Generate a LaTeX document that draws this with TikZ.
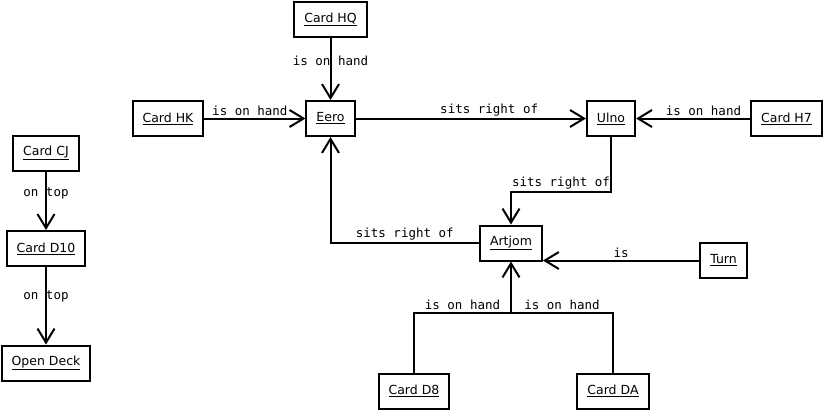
\documentclass[tikz,border=0pt]{standalone}
\usepackage{fontspec}
\setmainfont{DejaVu Sans}
\setmonofont{DejaVu Sans Mono}
\usetikzlibrary{positioning, arrows.meta, calc}

\begin{document}
\begin{tikzpicture}[
  x=1pt, y=-1pt,
  font=\fontsize{12.5}{14}\selectfont,
  >={Straight Barb[length=14pt, width=17pt]},
  obj/.style={draw, line width=2pt, minimum height=35pt, inner xsep=10pt,
              inner ysep=4pt, fill=white},
  rel/.style={->, line width=2pt},
  link/.style={line width=2pt},
  tag/.style={font=\ttfamily\fontsize{12.5}{14}\selectfont, inner sep=1.5pt},
]
\useasboundingbox (0,0) rectangle (825,413);

% ====================== the deck ========================================
\node[obj] (cj)   at (46,153)    {\underline{Card CJ}};
\node[obj] (d10)  at (46,248.5)  {\underline{Card D10}};
\node[obj] (open) at (46,363)    {\underline{Open Deck}};
\draw[rel] (cj) -- node[tag, pos=0.37] {on top} (d10);
\draw[rel] (d10) -- node[tag, pos=0.385] {on top} (open);

% ====================== players =========================================
\node[obj] (eero)   at (330.5,118.5) {\underline{Eero}};
\node[obj] (ulno)   at (611,118.5)   {\underline{Ulno}};
\node[obj] (artjom) at (511,243)     {\underline{Artjom}};
\node[obj] (turn)   at (723.5,260.5) {\underline{Turn}};

\draw[rel] (eero) -- node[tag, above, pos=0.58] {sits right of} (ulno);
\draw[rel] (ulno.south) -- ++(0,55) -| node[tag, above, pos=0.25] {sits right of} (artjom.north);
\draw[rel] (artjom.west) -| node[tag, above, pos=0.25] {sits right of} (eero.south);
\draw[rel] (turn.west) -- node[tag, above] {is} (turn.west -| artjom.east);

% ====================== cards on hand ===================================
\node[obj] (hq) at (330.5,19.5)  {\underline{Card HQ}};
\node[obj] (hk) at (168,118.5)   {\underline{Card HK}};
\node[obj] (h7) at (786.5,118.5) {\underline{Card H7}};
\node[obj] (d8) at (414,391)     {\underline{Card D8}};
\node[obj] (da) at (613,391)     {\underline{Card DA}};

\draw[rel] (hq) -- node[tag, pos=0.375] {is on hand} (eero);
\draw[rel] (hk) -- node[tag, above, pos=0.45] {is on hand} (eero);
\draw[rel] (h7) -- node[tag, above, pos=0.41] {is on hand} (ulno);

\coordinate (hand) at ($(artjom.south)+(0,51)$);
\draw[link] (d8.north) |- node[tag, above, pos=0.75] {is on hand} (hand);
\draw[link] (da.north) |- node[tag, above, pos=0.75] {is on hand} (hand);
\draw[rel] (hand) -- (artjom.south);

\end{tikzpicture}
\end{document}
